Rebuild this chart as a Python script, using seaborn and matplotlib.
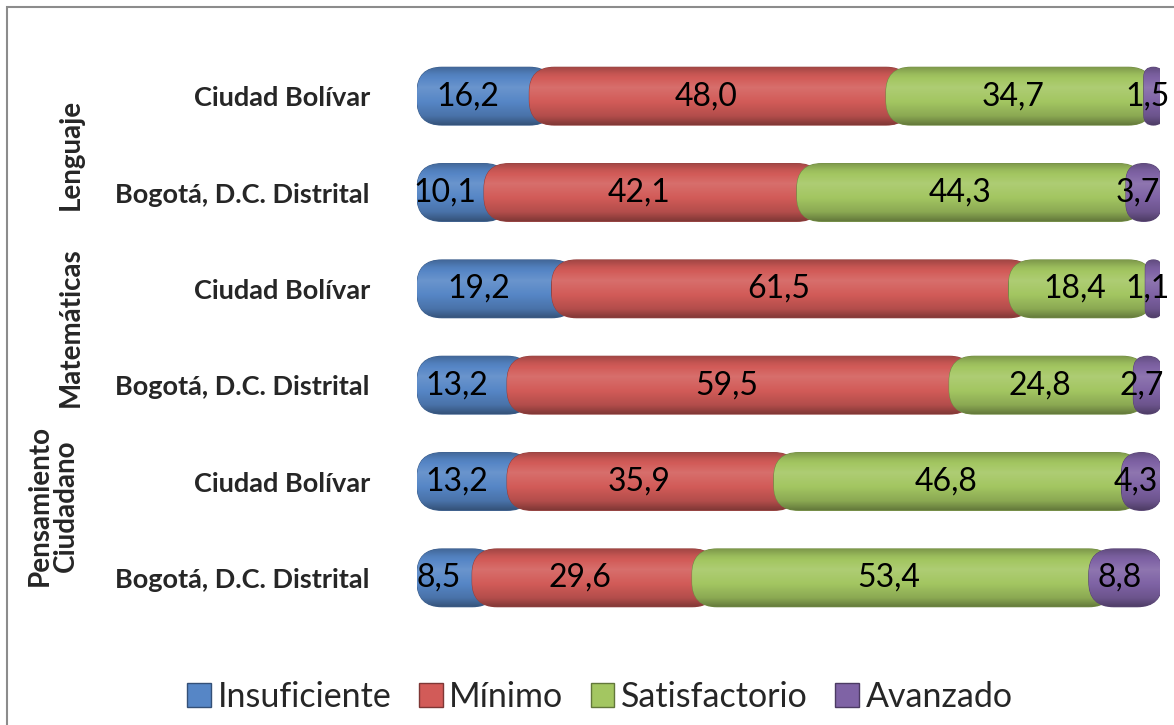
import numpy as np
import pandas as pd
import matplotlib
matplotlib.use("Agg")
import matplotlib.pyplot as plt
import seaborn as sns
from matplotlib.patches import FancyBboxPatch, Patch, Rectangle
from matplotlib.transforms import blended_transform_factory
from matplotlib.colors import to_rgb

# ---------------- data ----------------
row_labels = ["Ciudad Bolívar", "Bogotá, D.C. Distrital",
              "Ciudad Bolívar", "Bogotá, D.C. Distrital",
              "Ciudad Bolívar", "Bogotá, D.C. Distrital"]
subjects = ["Lenguaje", "Matemáticas", "Pensamiento\nCiudadano"]
series_names = ["Insuficiente", "Mínimo", "Satisfactorio", "Avanzado"]
insuficiente = [16.2, 10.1, 19.2, 13.2, 13.2, 8.5]
minimo = [48.0, 42.1, 61.5, 59.5, 35.9, 29.6]
satisfactorio = [34.7, 44.3, 18.4, 24.8, 46.8, 53.4]
avanzado = [1.5, 3.7, 1.1, 2.7, 4.3, 8.8]
series_values = [insuficiente, minimo, satisfactorio, avanzado]
colors = ["#5686C6", "#D25B58", "#A3C661", "#7F63A5"]

sns.set_theme(style="white")
plt.rcParams['font.family'] = ['Lato', 'DejaVu Sans']

W, H = 1174, 725
fig = plt.figure(figsize=(W / 100, H / 100), dpi=100)
L, R = 417 / W, 1160 / W
T, B = 1 - 48 / H, 1 - 626 / H
ax = fig.add_axes([L, B, R - L, T - B])

row_ids = [str(i) for i in range(len(row_labels))]
cum = np.zeros(len(row_labels))
seg_info = []
for si, (name, vals) in enumerate(zip(series_names, series_values)):
    df = pd.DataFrame({"row": row_ids, "value": vals})
    before = len(ax.patches)
    sns.barplot(data=df, x="value", y="row", orient="h", color=colors[si],
                width=0.6, ax=ax, saturation=1)
    new = ax.patches[before:]
    for p, left in zip(new, cum):
        p.set_x(left)
    seg_info.append((si, list(new), cum.copy()))
    cum = cum + np.array(vals)

ax.set_xlim(0, 100)
ax.set_ylim(5.5, -0.5)

px_x = (R - L) * W / 100.0
px_y = (T - B) * H / 6.0
aspect = px_x / px_y
r_px_max = 25.0
cap_px = 8.0   # end cap of each cylinder overlapping the previous one

def shade(c, f):
    c = np.array(to_rgb(c))
    if f >= 1:
        return np.clip(c + (1 - c) * (f - 1), 0, 1)
    return c * f

prof_y = np.linspace(0, 1, 64)
prof = np.interp(prof_y, [0, 0.12, 0.35, 0.6, 0.85, 1.0],
                 [0.78, 0.95, 1.12, 1.0, 0.85, 0.62])

n_series = len(seg_info)
for si, patches, lefts in seg_info:
    for ri, p in enumerate(patches):
        x0 = p.get_x()
        w = p.get_width()
        y0 = p.get_y()
        h = p.get_height()
        p.remove()
        capL = cap_px / px_x if si > 0 else 0.0
        xs = x0 - capL
        ws = w + capL
        ext = 0.0
        if si < n_series - 1:
            nxt_w_px = seg_info[si + 1][1][ri].get_width() * px_x + cap_px
            ext = max(0.0, min(r_px_max, nxt_w_px / 2.0) - cap_px) / px_x
        tot_px = (ws + ext) * px_x
        r_px = min(r_px_max, tot_px / 2.0)
        rx = r_px / px_x
        pill = FancyBboxPatch((xs, y0), ws + ext, h,
                              boxstyle=f"round,pad=0,rounding_size={rx}",
                              mutation_aspect=aspect,
                              facecolor=colors[si],
                              edgecolor=shade(colors[si], 0.7),
                              linewidth=0.8, zorder=2 + si)
        ax.add_patch(pill)
        grad = np.array([shade(colors[si], f) for f in prof]).reshape(-1, 1, 3)
        im = ax.imshow(grad, extent=(xs, xs + ws + ext, y0 + h, y0),
                       aspect="auto", zorder=2 + si, interpolation="bilinear")
        im.set_clip_path(pill)
        val = series_values[si][ri]
        ax.annotate(f"{val:.1f}".replace(".", ","),
                    xy=(x0 + w / 2.0, y0 + h / 2.0), xytext=(-7, 0),
                    textcoords="offset points",
                    ha="center", va="center", fontsize=23, color="black",
                    zorder=20, annotation_clip=False)

ax.set_xlim(0, 100)
ax.set_ylim(5.5, -0.5)
ax.set_xticks([])
ax.set_yticks(range(len(row_labels)))
ax.set_yticklabels(row_labels, fontsize=19.5, fontweight="bold")
ax.tick_params(axis="y", length=0, pad=34)
ax.set_xlabel("")
ax.set_ylabel("")
for s in ax.spines.values():
    s.set_visible(False)

tr = blended_transform_factory(fig.transFigure, ax.transData)
group_pos = [0.6, 2.4, 4.25]
group_x = [71 / W, 71 / W, 53 / W]
for txt, gy, gx in zip(subjects, group_pos, group_x):
    ax.text(gx, gy, txt, transform=tr, rotation=90, ha="center", va="center",
            fontsize=20, fontweight="bold", linespacing=1.0)

handles = [Patch(facecolor=c, edgecolor=shade(c, 0.6), label=n)
           for c, n in zip(colors, series_names)]
fig.legend(handles=handles, loc="center", bbox_to_anchor=(600 / W, 1 - 697 / H),
           ncol=4, frameon=False, fontsize=24.5, handlelength=0.7,
           handleheight=0.7, handletextpad=0.2, columnspacing=0.8)

fig.patches.append(Rectangle((7 / W, -0.1), 1.2, 1.1 - 7 / H, transform=fig.transFigure,
                             fill=False, edgecolor="#8c8c8c", linewidth=1.5))

fig.savefig("out.png", dpi=100, facecolor="white")
